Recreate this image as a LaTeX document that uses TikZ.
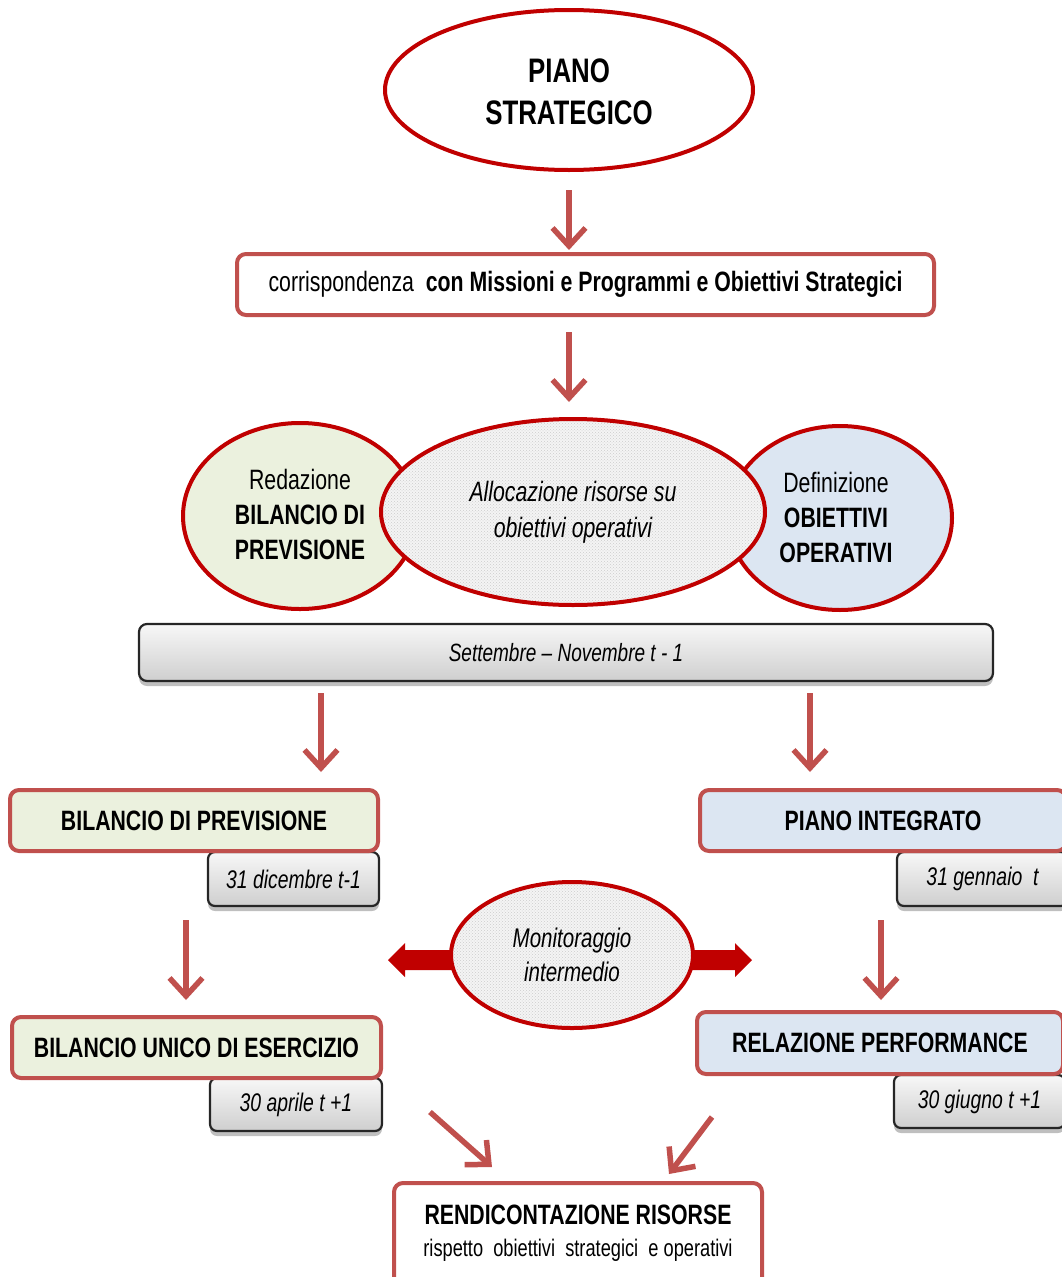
\documentclass[tikz,border=0pt]{standalone}
\usepackage{fontspec}
\setmainfont{Liberation Sans}[FakeStretch=0.76]
\usetikzlibrary{arrows.meta,shadows,shapes.geometric,patterns}
\definecolor{dred}{HTML}{C00000}
\definecolor{bred}{HTML}{C0504D}
\definecolor{lgreen}{HTML}{EBF1DE}
\definecolor{lblue}{HTML}{DCE6F2}
\definecolor{dotgray}{HTML}{F4F4F4}
\newcommand{\fs}[2]{\fontsize{#1}{#2}\selectfont}
\tikzset{
  ell/.style={ellipse, draw=dred, line width=4pt, inner sep=0pt, align=center},
  dotted fill/.style={preaction={fill=dotgray}, pattern=crosshatch dots, pattern color=gray!40},
  box/.style={rectangle, rounded corners=9pt, draw=bred, line width=4pt, inner sep=0pt, align=center},
  datebox/.style={rectangle, rounded corners=7pt, draw=black!85, line width=2.2pt, inner sep=0pt,
     top color=gray!6, bottom color=gray!38,
     drop shadow={shadow xshift=0pt, shadow yshift=-5pt, opacity=0.25, fill=black}},
  flow/.style={draw=bred, line width=5.5pt, -{Straight Barb[length=18pt,width=33pt]}},
  fat/.style={fill=dred, draw=none},
}
\begin{document}
\begin{tikzpicture}[x=1pt,y=-1pt]
\useasboundingbox (0,0) rectangle (1061,1277);

% top ellipse
\node[ell, fill=white, minimum width=368pt, minimum height=160pt] (ps) at (569,90) {};
\node[font=\fs{34}{42}\bfseries, align=center] (pst) at (569,92) {PIANO\\STRATEGICO};

% correspondence box
\node[box, fill=white, minimum width=697pt, minimum height=61pt, font=\fs{28}{32}] (corr) at (585.5,284.5)
  {corrispondenza\ \ {\bfseries con Missioni e Programmi e Obiettivi Strategici}};

\coordinate (a1s) at (569,190); \coordinate (a1e) at (569,250);
\draw[flow] (a1s) -- (a1e);
\coordinate (a2s) at (569,332); \coordinate (a2e) at (569,402);
\draw[flow] (a2s) -- (a2e);

% three ellipses
\node[ell, fill=lgreen, minimum width=234pt, minimum height=186pt] (redaz) at (300,516) {};
\node[ell, fill=lblue, minimum width=224pt, minimum height=184pt] (defin) at (840,518) {};
\node[ell, dotted fill, minimum width=384pt, minimum height=186pt] (alloc) at (573,512) {};
\node[font=\fs{28}{35}, align=center] (redazt) at (300,514)
  {Redazione\\\bfseries BILANCIO DI\\\bfseries PREVISIONE};
\node[font=\fs{28}{35}, align=center] (defint) at (836,517)
  {Definizione\\\bfseries OBIETTIVI\\\bfseries OPERATIVI};
\node[font=\fs{28}{36}\itshape, align=center] (allct) at (573,512)
  {Allocazione risorse su\\obiettivi operativi};

% grey bar
\node[datebox, rounded corners=8pt, minimum width=854pt, minimum height=57pt, font=\fs{25}{30}\itshape] (bar) at (566,652.5)
  {Settembre -- Novembre\ t - 1};

\coordinate (b1s) at (321,693); \coordinate (b1e) at (321,772);
\draw[flow] (b1s) -- (b1e);
\coordinate (b2s) at (810,693); \coordinate (b2e) at (810,772);
\draw[flow] (b2s) -- (b2e);

% date boxes (drawn first)
\node[datebox, minimum width=171pt, minimum height=54pt, font=\fs{25.5}{30}\itshape] (d1) at (293.5,879) {31 dicembre t-1};
\node[datebox, minimum width=171pt, minimum height=54pt, font=\fs{25.5}{30}\itshape] (d2) at (982.5,879) {31 gennaio\ \ t};
\node[datebox, minimum width=172pt, minimum height=53pt, font=\fs{25.5}{30}\itshape] (d3) at (296,1104.5) {30 aprile t +1};
\node[datebox, minimum width=171pt, minimum height=53pt, font=\fs{25.5}{30}\itshape] (d4) at (979.5,1101.5) {30 giugno t +1};

% main boxes
\node[box, fill=lgreen, minimum width=368pt, minimum height=61pt, font=\fs{28}{32}\bfseries] (bp) at (194,820.5) {BILANCIO DI PREVISIONE};
\node[box, fill=lblue, minimum width=366pt, minimum height=61pt, font=\fs{28}{32}\bfseries] (pi) at (883,820.5) {PIANO INTEGRATO};
\node[box, fill=lgreen, minimum width=369pt, minimum height=61pt, font=\fs{28}{32}\bfseries] (bu) at (196.5,1047.5) {BILANCIO UNICO DI ESERCIZIO};
\node[box, fill=lblue, minimum width=366pt, minimum height=62pt, font=\fs{28}{32}\bfseries] (rp) at (880,1043) {RELAZIONE PERFORMANCE};

\coordinate (c1s) at (186,920); \coordinate (c1e) at (186,1000);
\draw[flow] (c1s) -- (c1e);
\coordinate (c2s) at (881,920); \coordinate (c2e) at (881,1000);
\draw[flow] (c2s) -- (c2e);

% monitoraggio
\fill[fat] (470,950) -- (405,950) -- (405,943) -- (388,960) -- (405,977) -- (405,970) -- (470,970) -- cycle;
\fill[fat] (674,950) -- (735,950) -- (735,943) -- (752,960) -- (735,977) -- (735,970) -- (674,970) -- cycle;
\node[ell, dotted fill, minimum width=242pt, minimum height=146pt] (mon) at (572,955) {};
\node[font=\fs{27}{34}\itshape, align=center] (mont) at (572,955) {Monitoraggio\\intermedio};

% bottom box
\node[box, fill=white, minimum width=368pt, minimum height=115pt] (rend) at (578,1240.5) {};
\node[font=\fs{28}{32}\bfseries] (rendt1) at (578,1215) {RENDICONTAZIONE RISORSE};
\node[font=\fs{24}{30}] (rendt2) at (578,1250) {rispetto\ \ obiettivi\ \ strategici\ \ e operativi};

\coordinate (e1s) at (430,1112); \coordinate (e1e) at (492,1167);
\draw[flow] (e1s) -- (e1e);
\coordinate (e2s) at (712,1117); \coordinate (e2e) at (669,1174);
\draw[flow] (e2s) -- (e2e);
\end{tikzpicture}
\end{document}
